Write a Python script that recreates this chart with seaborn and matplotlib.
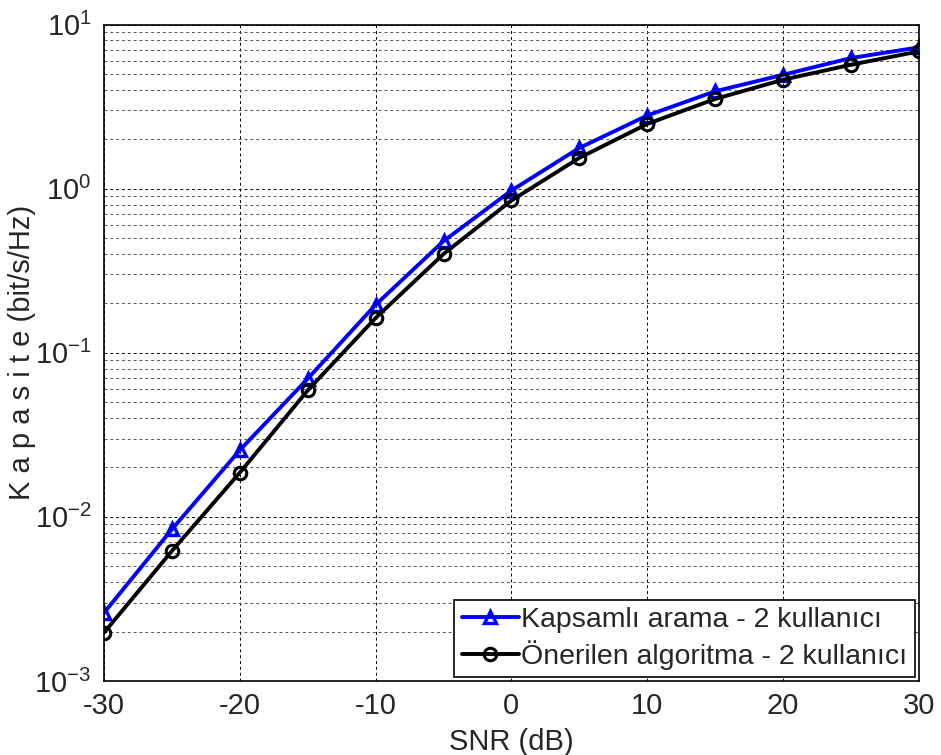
import matplotlib
matplotlib.use("Agg")
import matplotlib.pyplot as plt
import numpy as np
import pandas as pd
import seaborn as sns
from matplotlib.ticker import LogLocator, MultipleLocator

# data
snr_db = [-30, -25, -20, -15, -10, -5, 0, 5, 10, 15, 20, 25, 30]
kapsamli = [0.0026, 0.0084, 0.0255, 0.0695, 0.196, 0.479, 0.974, 1.77, 2.79, 3.92, 4.94, 6.25, 7.26]
onerilen = [0.00197, 0.0062, 0.0186, 0.059, 0.163, 0.40, 0.847, 1.54, 2.48, 3.52, 4.61, 5.69, 6.86]
label_a = "Kapsamlı arama - 2 kullanıcı"
label_b = "Önerilen algoritma - 2 kullanıcı"

sns.set_style("white")
plt.rcParams["font.family"] = ["Liberation Sans", "DejaVu Sans"]
plt.rcParams["mathtext.fontset"] = "custom"
plt.rcParams["mathtext.rm"] = "Liberation Sans"
plt.rcParams["axes.unicode_minus"] = False
plt.rcParams["font.size"] = 21

fig = plt.figure(figsize=(9.41, 7.55), dpi=100)
ax = fig.add_axes([0.1105, 0.098, 0.866, 0.8695])

df = pd.DataFrame({"snr": snr_db, "a": kapsamli, "b": onerilen})

sns.lineplot(ax=ax, data=df, x="snr", y="a", color="#0000ff", linewidth=2.8,
             marker="^", markersize=9, markeredgecolor="#0000ff",
             markerfacecolor="none", markeredgewidth=2.4, label=label_a)
sns.lineplot(ax=ax, data=df, x="snr", y="b", color="black", linewidth=2.8,
             marker="o", markersize=9, markeredgecolor="black",
             markerfacecolor="none", markeredgewidth=2.2, label=label_b)

ax.set_yscale("log")
ax.set_xlim(-30, 30)
ax.set_ylim(1e-3, 1e1)
ax.xaxis.set_major_locator(MultipleLocator(10))
ax.yaxis.set_major_locator(LogLocator(base=10, numticks=10))
ax.yaxis.set_minor_locator(LogLocator(base=10, subs=np.arange(2, 10), numticks=20))

ax.grid(True, which="major", color="black", linestyle=(0, (3, 3)), linewidth=0.7)
ax.grid(True, which="minor", axis="y", color="#555555", linestyle=(0, (3, 3)), linewidth=0.7)
for s in ax.spines.values():
    s.set_color("black")
    s.set_linewidth(1.2)

ax.tick_params(axis="x", which="major", direction="in", length=5, labelsize=21, pad=8)
ax.tick_params(axis="y", which="major", direction="in", length=5, labelsize=21, pad=9)
ax.tick_params(axis="y", which="minor", direction="in", length=3)

ax.set_xlabel("SNR (dB)", fontsize=21, labelpad=6)
ax.set_ylabel("K a p a s i t e (bit/s/Hz)", fontsize=21, labelpad=-1)

leg = ax.legend(loc="lower right", fontsize=20.5, frameon=True, fancybox=False,
                handlelength=2.0, handletextpad=0.1, borderpad=0.25,
                labelspacing=0.25, borderaxespad=0.15)
leg.get_frame().set_edgecolor("black")
leg.get_frame().set_linewidth(1.2)
leg.get_frame().set_alpha(1)

fig.savefig("out.png", dpi=100, facecolor="white")
